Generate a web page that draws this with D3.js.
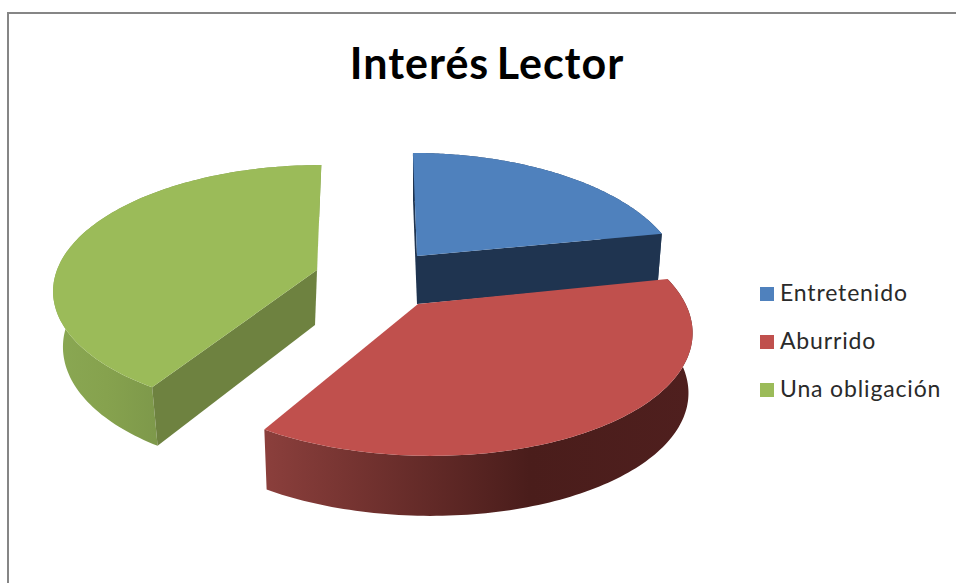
<!DOCTYPE html>
<html>
<head>
<meta charset="utf-8">
<script src="https://cdn.jsdelivr.net/npm/d3@7"></script>
<style>html,body{margin:0;padding:0;background:#fff;overflow:hidden}svg{display:block}</style>
</head>
<body>
<svg id="c" width="956" height="583"></svg>
<script>
const title = "Interés Lector";
const categories = ["Entretenido", "Aburrido", "Una obligación"];
const values = [22, 37, 41];
const topColors = ["#4f81bd", "#c0504d", "#9bbb59"];
const wallColors = ["#1f3450", null, "#6e8240"];
const rimStops = [
  [[0, "#2a4465"], [1, "#2a4465"]],
  [[0, "#8b3f3c"], [0.62, "#4a1d1b"], [1, "#4f1f1e"]],
  [[0, "#8aa853"], [0.5, "#86a24e"], [1, "#7d984a"]]
];
// view of each exploded slice: apex, projective terms, extrusion
const views = [
  {ax:417, ay:256, k:259, b:-4.8, m:122.6, e:0,  pc:.19,  ps:0, sx:.984, bx:0,  h:48, hy:0,   x0:413, x1:662},
  {ax:418, ay:304, k:266, b:-16,  m:123,   e:-3, pc:.19,  ps:0, sx:.985, bx:0,  h:60, hy:0,   x0:265, x1:692},
  {ax:317, ay:270, k:260, b:5,    m:121,   e:0,  pc:.153, ps:0, sx:.955, bx:-2, h:55, hy:.03, x0:52,  x1:160}
];

const svg = d3.select("#c");
const defs = svg.append("defs");

svg.append("rect").attr("x", 8).attr("y", 13).attr("width", 1200).attr("height", 1200)
  .attr("fill", "#fff").attr("stroke", "#868686").attr("stroke-width", 2);

svg.append("text").attr("x", 487).attr("y", 79).attr("text-anchor", "middle")
  .attr("font-family", "Lato").attr("font-weight", 700).attr("font-size", 43)
  .attr("letter-spacing", 1).attr("word-spacing", -4)
  .attr("fill", "#000").text(title);

const pie = d3.pie().sort(null).value(d => d)(values);

function topPt(v, t, r) {
  const s = Math.sin(t) * r, c = Math.cos(t) * r;
  const D = 1 + v.pc * c + v.ps * s;
  return [(v.k * s + v.b * c) / D, (-v.m * c + v.e * s) / D];
}
function screenTop(v, p) { return [v.ax + p[0], v.ay + p[1]]; }
function screenBot(v, p) { return [v.ax + p[0] * v.sx + v.bx, v.ay + p[1] + v.h + p[1] * v.hy]; }

const line = d3.line();
const order = [0, 2, 1];
order.forEach(i => {
  const a = pie[i], v = views[i];
  const angle = d3.scaleLinear().domain([0, 120]).range([a.startAngle, a.endAngle]);
  const arc = d3.range(0, 121).map(j => topPt(v, angle(j), 1));
  const g = svg.append("g").attr("class", "slice");

  const gid = "rim" + i;
  const lg = defs.append("linearGradient").attr("id", gid).attr("gradientUnits", "userSpaceOnUse")
    .attr("x1", v.x0).attr("x2", v.x1).attr("y1", 0).attr("y2", 0);
  rimStops[i].forEach(s => lg.append("stop").attr("offset", s[0]).attr("stop-color", s[1]));

  // outer rim
  const rim = arc.map(p => screenTop(v, p)).concat(arc.slice().reverse().map(p => screenBot(v, p)));
  g.append("path").attr("d", line(rim) + "Z").attr("fill", `url(#${gid})`);

  // cut faces
  const origin = [0, 0];
  if (wallColors[i]) {
    [arc[0], arc[arc.length - 1]].forEach(p => {
      const face = [screenTop(v, p), screenTop(v, origin), screenBot(v, origin), screenBot(v, p)];
      g.append("path").attr("d", line(face) + "Z").attr("fill", wallColors[i]);
    });
  }

  // top surface
  const top = [screenTop(v, origin)].concat(arc.map(p => screenTop(v, p)));
  g.append("path").attr("d", line(top) + "Z").attr("fill", topColors[i]);
});

const ly = d3.scalePoint().domain(categories).range([301, 397]);
const leg = svg.append("g").selectAll("g").data(categories).join("g")
  .attr("transform", d => `translate(0,${ly(d)})`);
leg.append("rect").attr("x", 760).attr("y", -14).attr("width", 14).attr("height", 14)
  .attr("fill", (d, i) => topColors[i]);
leg.append("text").attr("x", 780).attr("y", 0)
  .attr("font-family", "Lato").attr("font-size", 23).attr("letter-spacing", .85).attr("fill", "#2a2a2a").text(d => d);
</script>
</body>
</html>
